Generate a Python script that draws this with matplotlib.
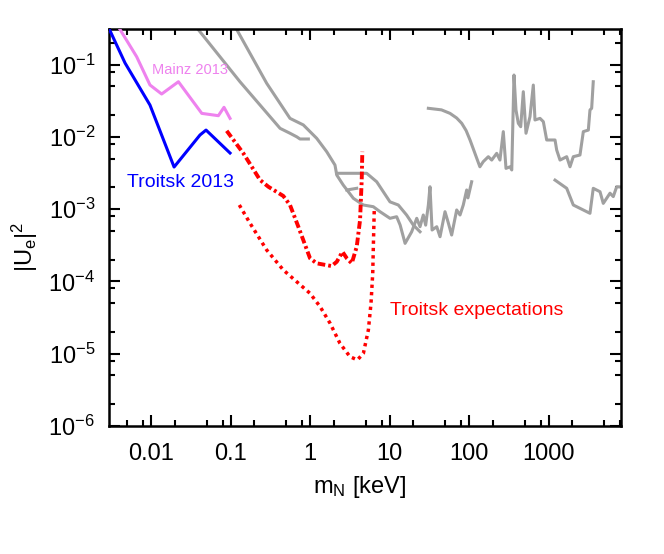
import matplotlib
matplotlib.use("Agg")
import matplotlib.pyplot as plt
from matplotlib.ticker import LogLocator, FixedLocator, NullFormatter

plt.rcParams['font.family'] = ['Liberation Sans', 'DejaVu Sans']
plt.rcParams['mathtext.fontset'] = 'custom'
plt.rcParams['mathtext.rm'] = 'Liberation Sans'
plt.rcParams['mathtext.it'] = 'Liberation Sans:italic'
plt.rcParams['lines.scale_dashes'] = False

# ---------------- data (m_N in keV, |U_e|^2) ----------------
troitsk13_x = [0.0029, 0.00471, 0.0097, 0.0195, 0.0413, 0.0492, 0.0986]
troitsk13_y = [0.33, 0.105, 0.0275, 0.00382, 0.0106, 0.0124, 0.00597]

mainz13_x = [0.0039, 0.0066, 0.0097, 0.0136, 0.0221, 0.0435, 0.0703, 0.0828, 0.0986]
mainz13_y = [0.33, 0.128, 0.0521, 0.0391, 0.0578, 0.0211, 0.0196, 0.0256, 0.0180]

exp_dashdot_x = [0.0895, 0.145, 0.235, 0.299, 0.461, 0.560, 0.713, 1.0, 1.21, 1.87,
                 2.17, 2.56, 2.90, 3.35, 3.87, 4.26, 4.47, 4.55]
exp_dashdot_y = [0.0121, 0.00591, 0.00253, 0.00204, 0.00152, 0.00114, 0.000571, 0.000209,
                 0.000178, 0.000163, 0.000187, 0.000257, 0.000209, 0.000178, 0.000302,
                 0.000706, 0.00253, 0.00622]

exp_dotted_x = [0.129, 0.176, 0.285, 0.461, 0.680, 1.0, 1.34, 1.79, 2.38, 3.18, 3.94,
                4.69, 5.42, 5.85, 6.15, 6.26, 6.44]
exp_dotted_y = [0.00114, 0.000637, 0.000272, 0.000144, 9.9e-5, 6.84e-5, 4.47e-5, 2.63e-5,
                1.39e-5, 9.1e-6, 8.2e-6, 1.01e-5, 2.13e-5, 4.98e-5, 0.000129, 0.000302, 0.00106]

grayA_x = [0.037, 0.1315, 0.420, 0.560, 0.681, 0.748, 0.953]
grayA_y = [0.33, 0.0578, 0.0131, 0.0112, 0.0100, 0.00933, 0.00933]

grayB_x = [0.115, 0.285, 0.560, 0.824, 1.214, 1.622, 2.06, 2.17, 2.62, 3.51, 4.68, 6.25,
           7.60, 10.14, 12.3, 13.6, 15.7, 19.0, 22.0, 24.2, 26.6, 28.5, 30.8, 32.3, 34.3,
           39.3, 43.2, 49.9, 54.5, 60.5, 70.0, 77.1, 84.7, 93.5, 97.0, 108]
grayB_y = [0.33, 0.0550, 0.0180, 0.0146, 0.00953, 0.00622, 0.00407, 0.00296, 0.00215,
           0.00141, 0.00114, 0.00108, 0.000921, 0.000746, 0.000785, 0.000603, 0.000336,
           0.000486, 0.000746, 0.000571, 0.000829, 0.00060, 0.00114, 0.00204, 0.000514,
           0.000571, 0.000415, 0.000921, 0.000664, 0.000438, 0.000973, 0.000829, 0.00114,
           0.00184, 0.00143, 0.00239]

grayC_x = [2.17, 5.16, 6.90, 10.14, 12.9, 16.4, 19.9, 24.2]
grayC_y = [0.00313, 0.00313, 0.00239, 0.00126, 0.00114, 0.000829, 0.000603, 0.000486]

grayStub_x = [2.90, 3.87]
grayStub_y = [0.00184, 0.00194]

grayD_x = [30.8, 45.0, 57.7, 70.0, 80.9, 92.0, 103, 137, 151, 175, 193, 223, 245, 270, 292,
           328, 345, 368, 390, 417, 447, 482, 521, 585, 644, 676, 782, 861, 949, 1208,
           1268, 1396, 1694, 1864, 2051, 2488, 2742, 3170, 3324, 3492, 3656]
grayD_y = [0.0248, 0.0236, 0.0211, 0.0182, 0.0154, 0.0122, 0.00904, 0.00385, 0.00453,
           0.00531, 0.00477, 0.00591, 0.00477, 0.0118, 0.00366, 0.00385, 0.00348, 0.0716,
           0.0235, 0.0154, 0.0138, 0.0421, 0.0112, 0.0190, 0.0520, 0.0171, 0.0180, 0.0162,
           0.00904, 0.00904, 0.00656, 0.00477, 0.00531, 0.00385, 0.00531, 0.00560, 0.0118,
           0.0124, 0.0235, 0.0248, 0.0578]

grayE_x = [1208, 1694, 2051, 3324, 3656, 4446, 4887, 5938, 6531, 7206, 8400]
grayE_y = [0.00252, 0.00194, 0.00114, 0.000875, 0.00194, 0.00174, 0.00120, 0.00166,
           0.00149, 0.00204, 0.00202]

xtick_vals = [0.01, 0.1, 1, 10, 100, 1000]
xtick_labels = ['0.01', '0.1', '1', '10', '100', '1000']
ytick_vals = [1e-6, 1e-5, 1e-4, 1e-3, 1e-2, 1e-1]
ytick_labels = [r'$\mathregular{10^{-6}}$', r'$\mathregular{10^{-5}}$', r'$\mathregular{10^{-4}}$',
                r'$\mathregular{10^{-3}}$', r'$\mathregular{10^{-2}}$', r'$\mathregular{10^{-1}}$']

# ---------------- figure ----------------
fig = plt.figure(figsize=(6.64, 5.54), dpi=100)
ax = fig.add_axes([109/664, 1 - 426/554, 512/664, 397/554])
ax.set_xscale('log')
ax.set_yscale('log')

gray = '#a0a0a0'
glw = 2.2
for gx, gy in [(grayA_x, grayA_y), (grayB_x, grayB_y), (grayC_x, grayC_y),
               (grayStub_x, grayStub_y), (grayD_x, grayD_y), (grayE_x, grayE_y)]:
    ax.plot(gx, gy, color=gray, lw=glw, solid_joinstyle='round', zorder=2)

ax.plot(mainz13_x, mainz13_y, color='#ee82ee', lw=2.2, zorder=3)
ax.plot(troitsk13_x, troitsk13_y, color='#0000ff', lw=2.2, zorder=3)

ax.plot(exp_dashdot_x, exp_dashdot_y, color='#ff0000', lw=2.8,
        linestyle=(0, (5.5, 2.2, 2.0, 2.2)), dash_capstyle='butt', zorder=4)
ax.plot(exp_dotted_x, exp_dotted_y, color='#ff0000', lw=2.5,
        linestyle=(0, (2.4, 2.9)), dash_capstyle='butt', zorder=4)

ax.text(0.0103, 0.0731, 'Mainz 2013', color='#ee82ee', fontsize=10.5, va='baseline', ha='left')
ax.text(0.00499, 0.00204, 'Troitsk 2013', color='#0000ff', fontsize=14, va='baseline', ha='left')
ax.text(10.1, 3.43e-5, 'Troitsk expectations', color='#ff0000', fontsize=14, va='baseline', ha='left')

ax.set_xlim(0.00296, 8166)
ax.set_ylim(1e-6, 0.31)

ax.xaxis.set_major_locator(FixedLocator(xtick_vals))
ax.set_xticklabels(xtick_labels)
ax.yaxis.set_major_locator(FixedLocator(ytick_vals))
ax.set_yticklabels(ytick_labels)
ax.xaxis.set_minor_locator(LogLocator(base=10, subs=(2.0, 5.0, 8.0), numticks=30))
ax.yaxis.set_minor_locator(LogLocator(base=10, subs=(2.0, 5.0, 8.0), numticks=30))
ax.xaxis.set_minor_formatter(NullFormatter())
ax.yaxis.set_minor_formatter(NullFormatter())

ax.tick_params(which='both', direction='in', top=True, right=True, width=1.5, labelsize=17)
ax.tick_params(which='major', length=8)
ax.tick_params(which='minor', length=4)
ax.tick_params(axis='x', which='major', pad=12)
ax.tick_params(axis='y', which='major', pad=10)
for sp in ax.spines.values():
    sp.set_linewidth(1.8)

ax.set_xlabel(r'm$_\mathregular{N}$ [keV]', fontsize=17)
ax.set_ylabel(r'$\mathregular{|U_e|^2}$', fontsize=17)
ax.xaxis.set_label_coords(0.49, -0.12)
ax.yaxis.set_label_coords(-0.135, 0.45)

fig.savefig('out.png', dpi=100)
